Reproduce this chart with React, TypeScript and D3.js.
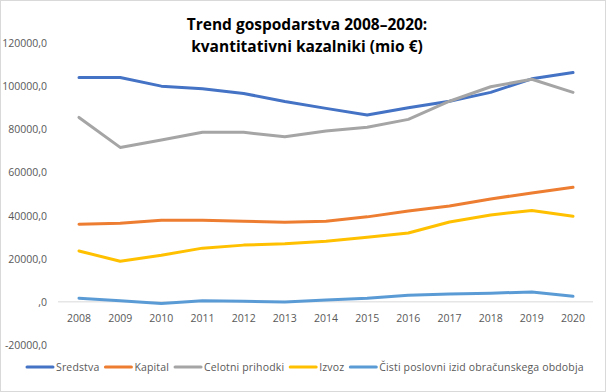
import React, { useEffect, useRef } from "react";
import * as d3 from "d3";

const years = ["2008","2009","2010","2011","2012","2013","2014","2015","2016","2017","2018","2019","2020"];
const sredstva = [104000,104000,100000,98800,96600,92900,89700,86600,90000,93000,97100,103400,106300];
const kapital = [36000,36400,37800,37800,37400,36900,37400,39400,42100,44400,47700,50500,53100];
const celotniPrihodki = [85500,71600,75000,78600,78600,76500,79200,80900,84600,93000,99700,103200,97100];
const izvoz = [23600,18800,21600,24900,26300,26900,28100,30000,31900,37000,40300,42400,39700];
const cistiIzid = [1700,500,-800,500,300,-100,900,1700,3100,3600,4000,4600,2600];
const seriesNames = ["Sredstva","Kapital","Celotni prihodki","Izvoz","Čisti poslovni izid obračunskega obdobja"];
const seriesColors = ["#4472C4","#ED7D31","#A5A5A5","#FFC000","#5B9BD5"];
const yTicks = [-20000,0,20000,40000,60000,80000,100000,120000];
const titleLines = ["Trend gospodarstva 2008–2020:","kvantitativni kazalniki (mio €)"];

const W = 606, H = 392;

export default function App() {
  const ref = useRef<SVGSVGElement>(null);
  useEffect(() => {
    const svg = d3.select(ref.current);
    svg.selectAll("*").remove();
    svg.append("rect").attr("x",0.5).attr("y",0.5).attr("width",W-1).attr("height",H-1)
      .attr("fill","#fff").attr("stroke","#d9d9d9");

    const x = d3.scalePoint<string>().domain(years).range([79, 573]);
    const y = d3.scaleLinear().domain([-20000,120000]).range([345, 43]);

    // title
    svg.append("g").selectAll("text").data(titleLines).join("text")
      .attr("x", 307).attr("y", (d,i)=>30+i*22).attr("text-anchor","middle")
      .attr("font-family","'Open Sans', sans-serif").attr("font-weight","bold").attr("font-size",15.5)
      .attr("fill","#000").text(d=>d);

    // y labels
    const fmt = (v:number) => v === 0 ? ",0" : `${v},0`;
    svg.append("g").selectAll("text").data(yTicks).join("text")
      .attr("x", 47).attr("y", d=>y(d)+4).attr("text-anchor","end")
      .attr("font-family","'Open Sans', sans-serif").attr("font-size",10.5).attr("fill","#595959")
      .text(d=>fmt(d));

    // zero axis line
    svg.append("line").attr("x1",58).attr("x2",593).attr("y1",y(0)).attr("y2",y(0))
      .attr("stroke","#d9d9d9").attr("stroke-width",1);

    // x labels
    svg.append("g").selectAll("text").data(years).join("text")
      .attr("x", d=>x(d)!).attr("y", 322).attr("text-anchor","middle")
      .attr("font-family","'Open Sans', sans-serif").attr("font-size",10.5).attr("fill","#595959")
      .text(d=>d);

    const all = [sredstva, kapital, celotniPrihodki, izvoz, cistiIzid];
    const line = d3.line<number>().x((_,i)=>x(years[i])!).y(d=>y(d));
    all.forEach((s,i)=>{
      svg.append("path").attr("d", line(s)!).attr("fill","none")
        .attr("stroke", seriesColors[i]).attr("stroke-width",3).attr("stroke-linejoin","round").attr("stroke-linecap","round");
    });

    // legend
    const lg = svg.append("g");
    let cx = 27;
    seriesNames.forEach((n,i)=>{
      lg.append("line").attr("x1",cx).attr("x2",cx+26).attr("y1",367).attr("y2",367)
        .attr("stroke",seriesColors[i]).attr("stroke-width",3).attr("stroke-linecap","round");
      const t = lg.append("text").attr("x",cx+29).attr("y",371)
        .attr("font-family","'Open Sans', sans-serif").attr("font-size",10.5)
        .attr("letter-spacing",0.15).attr("fill","#595959").text(n);
      const w = (t.node() as SVGTextElement).getComputedTextLength();
      cx = cx + 29 + w + 6;
    });
  }, []);
  return (
    <svg ref={ref} width={W} height={H} style={{position:"absolute", left:0, top:0}} />
  );
}
